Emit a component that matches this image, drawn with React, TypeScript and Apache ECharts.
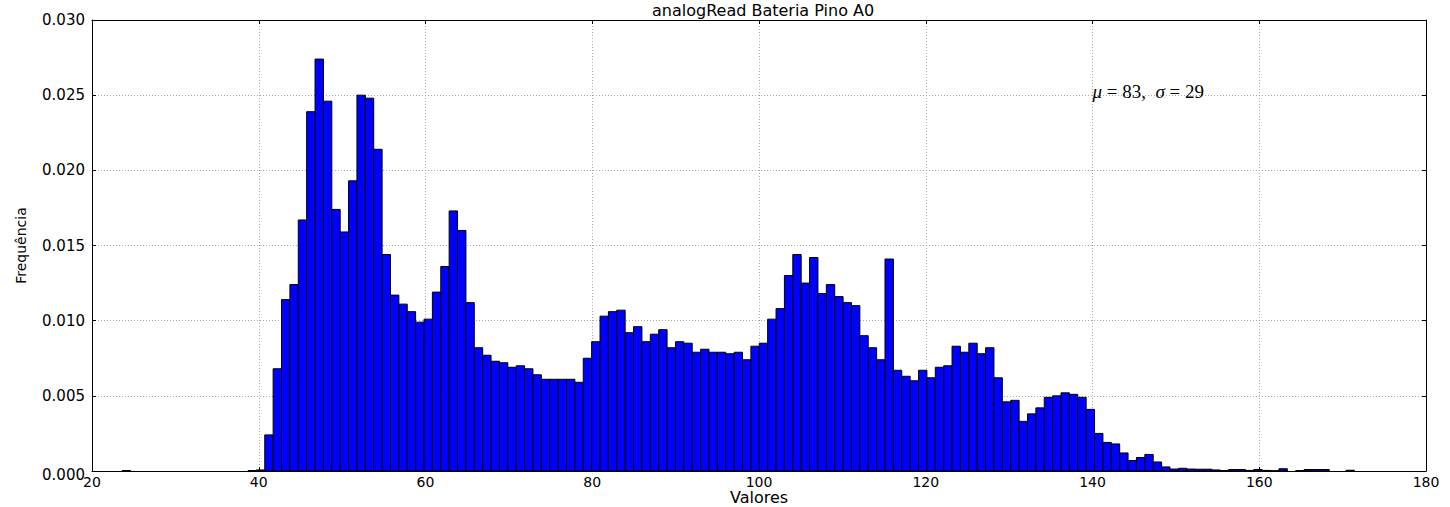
import React, { useEffect, useRef } from "react";
import * as echarts from "echarts";

const TITLE = "analogRead Bateria Pino A0";
const X_LABEL = "Valores";
const Y_LABEL = "Frequência";
const X_MIN = 20;
const X_MAX = 180;
const X_STEP = 20;
const Y_MIN = 0;
const Y_MAX = 0.03;
const Y_STEP = 0.005;

// histogram bins (edges of the first bin and bin width)
const BIN_START = 23.63;
const BIN_WIDTH = 1.0053;

// normalized frequencies, one per bin, starting at BIN_START
const frequencies: number[] = [
  0.00003, 0, 0, 0, 0, 0, 0, 0, 0, 0, 0, 0, 0, 0, 0, 0.00003, 0.00007,
  0.0024, 0.0068, 0.0114, 0.0124, 0.0167, 0.0239, 0.0274, 0.0246, 0.0174, 0.0159,
  0.0193, 0.025, 0.0248, 0.0214, 0.0144, 0.0117, 0.0111, 0.0106, 0.0099, 0.0101,
  0.0119, 0.0136, 0.0173, 0.016, 0.0112, 0.0082, 0.0077, 0.0073, 0.0072, 0.0069,
  0.007, 0.0068, 0.0064, 0.0061, 0.0061, 0.0061, 0.0061, 0.0059, 0.0075, 0.0086,
  0.0103, 0.0106, 0.0107, 0.0092, 0.0096, 0.0086, 0.0091, 0.0094, 0.0082, 0.0086,
  0.0085, 0.0079, 0.0081, 0.0079, 0.0079, 0.0078, 0.0079, 0.0074, 0.0083, 0.0085,
  0.0101, 0.0108, 0.013, 0.0144, 0.0125, 0.0142, 0.0118, 0.0124, 0.0116, 0.0112,
  0.011, 0.009, 0.0082, 0.0074, 0.0141, 0.0067, 0.0063, 0.006, 0.0067, 0.0062,
  0.0069, 0.007, 0.0083, 0.0079, 0.0085, 0.0078, 0.0082, 0.0062, 0.0046, 0.0047,
  0.0033, 0.0038, 0.0042, 0.0049, 0.005, 0.0052, 0.0051, 0.0049, 0.0041, 0.0025,
  0.0019, 0.0018, 0.0012, 0.0007, 0.0009, 0.0011, 0.0006, 0.00027, 0.00013, 0.00018,
  0.00013, 0.00012, 0.00012, 0.00007, 0.00003, 0.0001, 0.0001, 0.00004, 0.0001, 0.00004,
  0.00002, 0.00015, 0, 0.00003, 0.0001, 0.0001, 0.0001, 0, 0, 0.00005,
];

const STATS_AT: [number, number] = [140, 0.025];
const MU = 83;
const SIGMA = 29;

export default function App() {
  const ref = useRef<HTMLDivElement>(null);
  useEffect(() => {
    if (!ref.current) return;
    const chart = echarts.init(ref.current, undefined, { renderer: "svg" });
    const data = frequencies.map((f, i) => [
      BIN_START + i * BIN_WIDTH,
      BIN_START + (i + 1) * BIN_WIDTH,
      f,
    ]);
    const font = "DejaVu Sans";
    const grid = "#a8a8a8";
    const xBase = {
      type: "value" as const,
      min: X_MIN,
      max: X_MAX,
      interval: X_STEP,
    };
    const yBase = {
      type: "value" as const,
      min: Y_MIN,
      max: Y_MAX,
      interval: Y_STEP,
    };
    chart.setOption({
      animation: false,
      backgroundColor: "#fff",
      title: {
        text: TITLE,
        left: 647,
        top: -3,
        textStyle: { fontFamily: font, fontSize: 16, fontWeight: "normal", color: "#000" },
      },
      grid: {
        left: 92,
        right: 24,
        top: 20,
        bottom: 36,
        containLabel: false,
        outerBoundsMode: "none",
      },
      xAxis: [
        {
          ...xBase,
          position: "bottom",
          name: X_LABEL,
          nameLocation: "middle",
          nameGap: 18,
          nameMoveOverlap: false,
          nameTextStyle: { fontFamily: font, fontSize: 16, color: "#000" },
          axisLine: { show: true, onZero: false, lineStyle: { color: "#000", width: 1 } },
          axisTick: { show: true, inside: true, length: 4, lineStyle: { color: "#000" } },
          axisLabel: { fontFamily: font, fontSize: 14, color: "#000", margin: 4 },
          splitLine: { show: true, lineStyle: { color: grid, type: [1, 2], width: 1 } },
        },
        {
          ...xBase,
          position: "top",
          axisLine: { show: true, onZero: false, lineStyle: { color: "#000", width: 1 } },
          axisTick: { show: true, inside: true, length: 4, lineStyle: { color: "#000" } },
          axisLabel: { show: false },
          splitLine: { show: false },
        },
      ],
      yAxis: [
        {
          ...yBase,
          position: "left",
          name: Y_LABEL,
          nameLocation: "middle",
          nameGap: 64,
          nameRotate: 90,
          nameTextStyle: { fontFamily: font, fontSize: 14, color: "#000" },
          axisLine: { show: true, onZero: false, lineStyle: { color: "#000", width: 1 } },
          axisTick: { show: true, inside: true, length: 4, lineStyle: { color: "#000" } },
          axisLabel: {
            fontFamily: font,
            fontSize: 15,
            color: "#000",
            margin: 7,
            formatter: (v: number) => (v === 0 ? "{z|0.000}" : v.toFixed(3)),
            rich: { z: { fontFamily: font, fontSize: 15, color: "#000", padding: [8, 0, 0, 0] } },
          },
          splitLine: { show: true, lineStyle: { color: grid, type: [1, 2], width: 1 } },
        },
        {
          ...yBase,
          position: "right",
          axisLine: { show: true, onZero: false, lineStyle: { color: "#000", width: 1 } },
          axisTick: { show: true, inside: true, length: 4, lineStyle: { color: "#000" } },
          axisLabel: { show: false },
          splitLine: { show: false },
        },
      ],
      series: [
        {
          type: "custom",
          xAxisIndex: 0,
          yAxisIndex: 0,
          encode: { x: [0, 1], y: 2 },
          data,
          renderItem: (params: any, api: any) => {
            const x0 = api.value(0);
            const x1 = api.value(1);
            const f = api.value(2);
            if (!f) return null;
            const p0 = api.coord([x0, f]);
            const p1 = api.coord([x1, 0]);
            return {
              type: "rect",
              shape: { x: p0[0], y: p0[1], width: p1[0] - p0[0], height: p1[1] - p0[1] },
              style: { fill: "#0000ff", stroke: "#000", lineWidth: 1 },
            };
          },
        },
      ],
    });
    const p = chart.convertToPixel({ xAxisIndex: 0, yAxisIndex: 0 }, STATS_AT) as number[];
    chart.setOption({
      graphic: [
        {
          type: "text",
          x: p[0],
          y: p[1] + 6,
          style: {
            text: `{i|μ} = ${MU},  {i|σ} = ${SIGMA}`,
            fontFamily: "Liberation Serif",
            fontSize: 19,
            fill: "#000",
            align: "left",
            verticalAlign: "bottom",
            rich: {
              i: { fontFamily: "Liberation Serif", fontStyle: "italic", fontSize: 19, fill: "#000" },
            },
          },
        },
      ],
    });
    return () => chart.dispose();
  }, []);
  return (
    <div
      ref={ref}
      style={{ position: "fixed", left: 0, top: 0, width: 1450, height: 507 }}
    />
  );
}
